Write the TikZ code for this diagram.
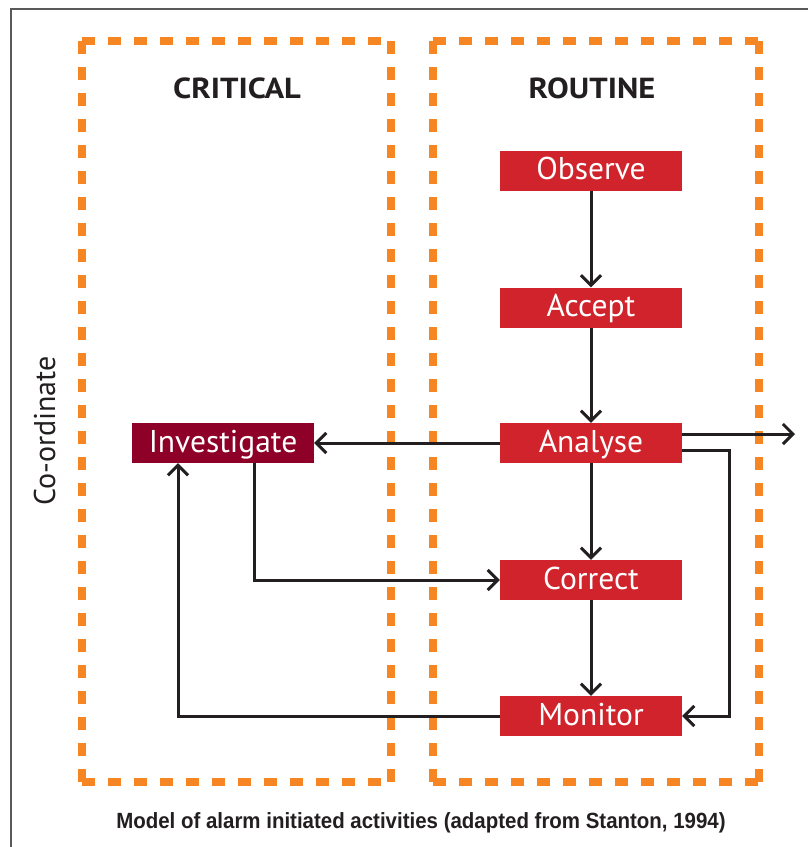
\documentclass[tikz,border=0pt]{standalone}
\usepackage{fontspec}
\setmainfont{PT Sans}
\newfontfamily\titlefont[FakeStretch=1.12]{PT Sans}
\newfontfamily\capfont[FakeStretch=0.93]{Liberation Sans}
\usetikzlibrary{arrows.meta}
\definecolor{boxred}{HTML}{D0232B}
\definecolor{darkred}{HTML}{8E0028}
\definecolor{orng}{HTML}{F68524}
\definecolor{ink}{HTML}{231F20}
\begin{document}
\begin{tikzpicture}[x=1pt,y=-1pt,
 proc/.style={fill=boxred, text=white, minimum width=182pt, minimum height=40pt, inner sep=0pt,
   text height=22pt, text depth=4pt, font=\fontsize{31.5}{36}\selectfont},
 conn/.style={draw=ink, line width=3pt, -{Straight Barb[length=10pt,width=20pt,line width=3pt]}},
 zone/.style={draw=orng, line width=7.5pt, dash pattern=on 13pt off 13pt},
 title/.style={text=ink, anchor=base, font=\titlefont\bfseries\fontsize{29}{32}\selectfont},
]
\useasboundingbox (0,0) rectangle (808,847);
\draw[gray!70!black, line width=1.5pt] (11,847) -- (11,9) -- (808,9);
% dashed zones
\draw[zone] (82,41) -- (391,41);
\draw[zone] (82,41) -- (82,782);
\draw[zone] (82,782) -- (391,782);
\draw[zone] (391,41) -- (391,782);
\draw[zone] (433,41) -- (759,41);
\draw[zone] (433,41) -- (433,782);
\draw[zone] (433,782) -- (759,782);
\draw[zone] (759,41) -- (759,782);
% titles
\node[title] (crit) at (237,98) {CRITICAL};
\node[title] (rout) at (592,98) {ROUTINE};
\node[text=ink, rotate=90, anchor=base, font=\fontsize{30}{34}\selectfont] (coord) at (55,431) {Co-ordinate};
% boxes
\node[proc] (obs) at (591,170.5) {Observe};
\node[proc] (acc) at (591,307.5) {Accept};
\node[proc] (ana) at (591,443) {Analyse};
\node[proc] (cor) at (591,580) {Correct};
\node[proc] (mon) at (591,716) {Monitor};
\node[proc, fill=darkred] (inv) at (223,443) {Investigate};
% connectors
\draw[conn] (obs) -- (acc);
\draw[conn] (acc) -- (ana);
\draw[conn] (ana) -- (cor);
\draw[conn] (cor) -- (mon);
\draw[conn] (ana) -- (inv);
\coordinate (out) at (795,434);
\draw[conn] (ana.east |- out) -- (out);
\draw[conn] (ana.east |- 0,450) -- (729,450) |- (mon.east);
\draw[conn] (inv.south -| 254,0) |- (cor.west);
\draw[conn] (mon.west) -| (inv.south -| 178,0);
% caption
\node[text=ink, anchor=base, font=\capfont\bfseries\fontsize{22}{24}\selectfont] (cap) at (421,828)
  {Model of alarm initiated activities (adapted from Stanton, 1994)};
\end{tikzpicture}
\end{document}
